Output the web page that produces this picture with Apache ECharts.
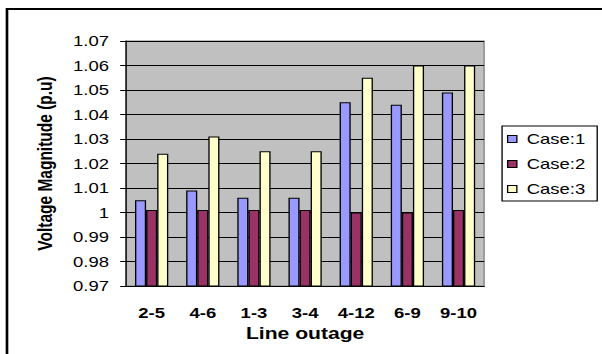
<!DOCTYPE html>
<html>
<head>
<meta charset="utf-8">
<script src="https://cdn.jsdelivr.net/npm/echarts@6/dist/echarts.min.js"></script>
<style>
html,body{margin:0;padding:0;background:#fff;overflow:hidden;}
#wrap{width:602px;height:354px;overflow:hidden;position:relative;}
#chart{width:456px;height:354px;transform:scaleX(1.3202);transform-origin:0 0;position:absolute;left:0;top:0;}
</style>
</head>
<body>
<div id="wrap"><div id="chart"></div></div>
<script>
var categories = ['2-5', '4-6', '1-3', '3-4', '4-12', '6-9', '9-10'];
var seriesNames = ['Case:1', 'Case:2', 'Case:3'];
var case1 = [1.005, 1.009, 1.006, 1.006, 1.045, 1.044, 1.049];
var case2 = [1.001, 1.001, 1.001, 1.001, 1.000, 1.000, 1.001];
var case3 = [1.024, 1.031, 1.025, 1.025, 1.055, 1.060, 1.060];
var yMin = 0.97, yMax = 1.07, yStep = 0.01;
var colors = ['#9999FF', '#993366', '#FFFFCC'];

var chart = echarts.init(document.getElementById('chart'), null, {renderer: 'svg'});
var font = 'Arial, "Liberation Sans", sans-serif';
function mk(name, data, color) {
  return {
    name: name, type: 'bar', data: data, barWidth: 8.4, barGap: '0%',
    itemStyle: {color: color, borderColor: '#000', borderWidth: 1},
    emphasis: {disabled: true}
  };
}
chart.setOption({
  animation: false,
  graphic: [{
    type: 'rect', silent: true, z: -10,
    shape: {x: 5.3, y: 9, width: 1000, height: 1000},
    style: {fill: 'none', stroke: '#000', lineWidth: 2}
  }],
  grid: {
    left: 95.5, right: 89.3, top: 41, bottom: 68,
    show: true, backgroundColor: '#C0C0C0', borderColor: '#808080', borderWidth: 1
  },
  legend: {
    orient: 'vertical', left: 380.3, top: 126,
    data: seriesNames, icon: 'rect', itemWidth: 7, itemHeight: 7, itemGap: 11,
    padding: [6, 9, 5, 3.7],
    borderColor: '#000', borderWidth: 1, backgroundColor: '#fff',
    itemStyle: {borderColor: '#000', borderWidth: 1},
    textStyle: {fontFamily: font, fontSize: 14, color: '#000', lineHeight: 14, padding: [0, 0, 0, 2.5]}
  },
  xAxis: {
    type: 'category', data: categories,
    name: 'Line outage', nameLocation: 'middle', nameGap: 39,
    nameTextStyle: {fontFamily: font, fontSize: 16, fontWeight: 'bold', color: '#000'},
    axisLine: {lineStyle: {color: '#000', width: 1}},
    axisTick: {show: false},
    axisLabel: {fontFamily: font, fontSize: 14, fontWeight: 'bold', color: '#000', margin: 20}
  },
  yAxis: {
    type: 'value', min: yMin, max: yMax, interval: yStep,
    name: 'Voltage Magnitude (p.u)', nameLocation: 'middle', nameGap: 53,
    nameTextStyle: {fontFamily: font, fontSize: 15.5, fontWeight: 'bold', color: '#000'},
    axisLine: {show: true, lineStyle: {color: '#000', width: 1}},
    axisTick: {show: true, length: 4.5, lineStyle: {color: '#000'}},
    splitLine: {lineStyle: {color: '#000', width: 1}},
    axisLabel: {
      fontFamily: font, fontSize: 14, color: '#000', margin: 13,
      formatter: function (v) { return String(+v.toFixed(2)); }
    }
  },
  series: [mk(seriesNames[0], case1, colors[0]), mk(seriesNames[1], case2, colors[1]), mk(seriesNames[2], case3, colors[2])]
});
</script>
</body>
</html>
